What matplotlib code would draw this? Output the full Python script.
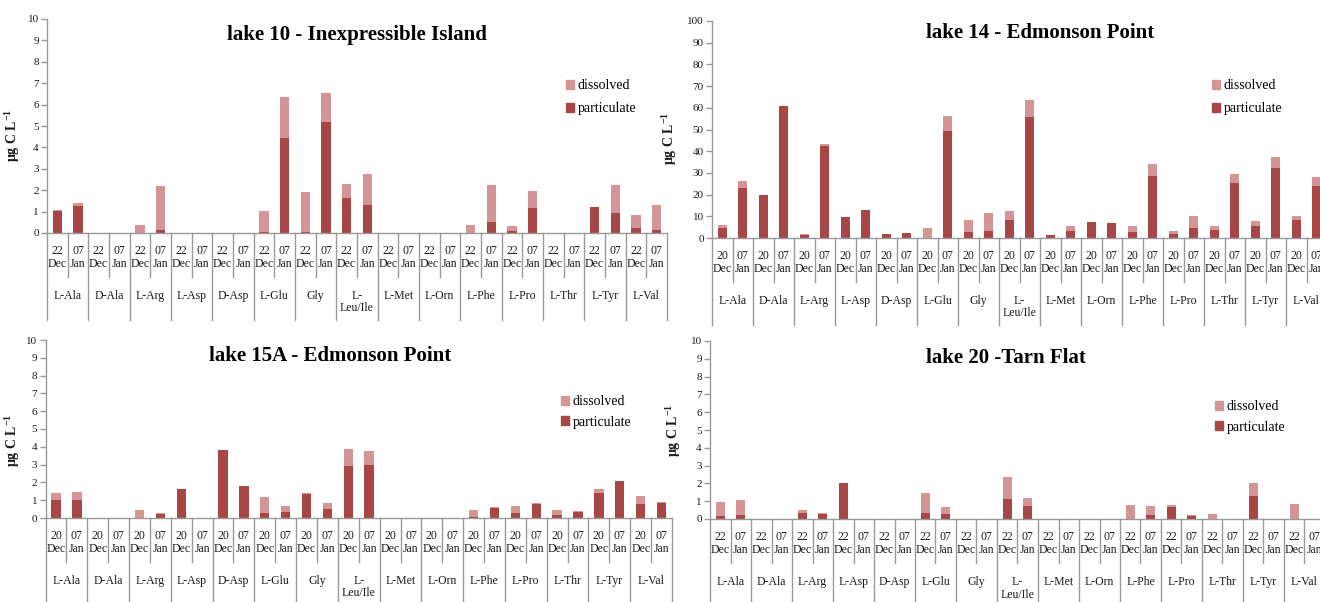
import matplotlib
matplotlib.use('Agg')
import matplotlib.pyplot as plt
from matplotlib.patches import Patch
import numpy as np

plt.rcParams['font.family'] = ['Liberation Serif', 'DejaVu Serif']
plt.rcParams['mathtext.fontset'] = 'custom'
plt.rcParams['mathtext.rm'] = 'Liberation Serif'
plt.rcParams['mathtext.bf'] = 'Liberation Serif:bold'

# ---------------- data ----------------
amino_acids = ["L-Ala", "D-Ala", "L-Arg", "L-Asp", "D-Asp", "L-Glu", "Gly",
               "L-\nLeu/Ile", "L-Met", "L-Orn", "L-Phe", "L-Pro", "L-Thr",
               "L-Tyr", "L-Val"]
dates_22 = ["22\nDec", "07\nJan"]
dates_20 = ["20\nDec", "07\nJan"]

# values per amino acid: (first date, 07 Jan)
lake10_particulate = [1.05, 1.25, 0, 0, 0.02, 0.13, 0, 0, 0, 0, 0.05, 4.45,
                      0.05, 5.18, 1.65, 1.33, 0, 0, 0, 0, 0.02, 0.52,
                      0.08, 1.15, 0, 0, 1.23, 0.95, 0.25, 0.12]
lake10_dissolved = [0.02, 0.17, 0, 0, 0.35, 2.05, 0, 0, 0, 0, 1.00, 1.90,
                    1.87, 1.37, 0.63, 1.42, 0, 0, 0, 0, 0.35, 1.72,
                    0.27, 0.80, 0, 0, 0.0, 1.27, 0.57, 1.18]

lake14_particulate = [4.6, 23.0, 19.7, 61.0, 1.2, 42.2, 9.7, 12.7, 1.8, 2.3,
                      0.2, 49.5, 2.6, 3.2, 8.1, 55.6, 1.5, 3.2, 7.5, 6.9,
                      2.8, 28.4, 1.7, 4.5, 3.7, 25.3, 5.4, 32.3, 8.1, 24.0]
lake14_dissolved = [1.5, 3.4, 0, 0, 0.8, 1.0, 0, 0, 0.2, 0.2,
                    4.3, 6.9, 5.8, 8.3, 4.3, 7.8, 0, 2.3, 0, 0,
                    2.6, 5.5, 1.5, 5.5, 1.7, 4.0, 2.6, 4.9, 1.9, 4.1]

lake15A_particulate = [0.99, 0.99, 0, 0, 0.02, 0.25, 1.61, 0, 3.81, 1.78,
                       0.26, 0.32, 1.37, 0.53, 2.90, 2.95, 0, 0, 0, 0,
                       0.03, 0.55, 0.28, 0.77, 0.19, 0.33, 1.38, 2.09, 0.80, 0.82]
lake15A_dissolved = [0.41, 0.49, 0, 0, 0.43, 0.03, 0, 0, 0.02, 0.02,
                     0.94, 0.33, 0.03, 0.33, 0.97, 0.81, 0, 0, 0, 0,
                     0.44, 0.09, 0.39, 0.07, 0.26, 0.08, 0.25, 0.0, 0.45, 0.08]

lake20_particulate = [0.19, 0.24, 0, 0, 0.32, 0.30, 2.03, 0, 0, 0,
                      0.34, 0.30, 0, 0, 1.14, 0.71, 0, 0, 0, 0,
                      0.02, 0.24, 0.67, 0.15, 0.02, 0, 1.27, 0, 0, 0]
lake20_dissolved = [0.76, 0.84, 0, 0, 0.20, 0.02, 0, 0, 0, 0,
                    1.10, 0.37, 0, 0, 1.21, 0.47, 0, 0, 0, 0,
                    0.78, 0.51, 0.09, 0.09, 0.28, 0, 0.74, 0, 0.87, 0]

titles = ["lake 10 - Inexpressible Island", "lake 14 - Edmonson Point",
          "lake 15A - Edmonson Point", "lake 20 -Tarn Flat"]

# ---------------- layout / style ----------------
W, H = 1320, 602
fig = plt.figure(figsize=(W / 100, H / 100), dpi=100)

DARK = '#a84646'
LIGHT = '#d49596'
LINE = '#9a9a9a'
TXT = '#1a1a1a'
CAT_FS = 8.5

panels = [
    dict(title=titles[0], part=lake10_particulate, diss=lake10_dissolved,
         dates=dates_22, ymax=10, step=1, box=(47, 667, 233, 19),
         title_xy=(357, 35), leg_xy=(566, 79), ylab_xy=(22, 135), sep_len=87,
         lspace=0.75),
    dict(title=titles[1], part=lake14_particulate, diss=lake14_dissolved,
         dates=dates_20, ymax=100, step=10, box=(712, 1327, 238, 21),
         title_xy=(1040, 33), leg_xy=(1212, 79), ylab_xy=(679, 138), sep_len=87,
         lspace=0.75),
    dict(title=titles[2], part=lake15A_particulate, diss=lake15A_dissolved,
         dates=dates_20, ymax=10, step=1, box=(45.5, 672, 518, 340),
         title_xy=(330, 356), leg_xy=(561, 395), ylab_xy=(22, 440), sep_len=95,
         lspace=0.55),
    dict(title=titles[3], part=lake20_particulate, diss=lake20_dissolved,
         dates=dates_22, ymax=10, step=1, box=(710, 1325, 519, 341),
         title_xy=(1006, 358), leg_xy=(1215, 400), ylab_xy=(683, 430), sep_len=95,
         lspace=0.55),
]

for p in panels:
    x0, x1, yb, yt = p['box']
    ax = fig.add_axes([x0 / W, 1 - yb / H, (x1 - x0) / W, (yb - yt) / H])
    part = np.array(p['part'])
    diss = np.array(p['diss'])
    n = len(part)
    x = np.arange(n)
    ax.bar(x, part, width=0.45, color=DARK, zorder=2)
    ax.bar(x, diss, width=0.45, bottom=part, color=LIGHT, zorder=2)
    ax.set_xlim(-0.5, n - 0.5)
    ax.set_ylim(0, p['ymax'])
    ax.set_yticks(np.arange(0, p['ymax'] + p['step'] / 2, p['step']))
    ax.set_xticks([])
    for s in ['top', 'right']:
        ax.spines[s].set_visible(False)
    for s in ['left', 'bottom']:
        ax.spines[s].set_color(LINE)
        ax.spines[s].set_linewidth(1.0)
    ax.tick_params(axis='y', direction='out', length=4, width=1.0, color=LINE,
                   labelsize=8, labelcolor=TXT, pad=2)
    ax.patch.set_alpha(0)

    h_px = yb - yt
    fy = lambda px: -px / h_px
    trans = ax.get_xaxis_transform()
    for i in range(n):
        d1, d2 = p['dates'][i % 2].split('\n')
        ax.text(i, fy(18), d1, transform=trans, ha='center', va='center',
                fontsize=CAT_FS, color=TXT, clip_on=False)
        ax.text(i, fy(31), d2, transform=trans, ha='center', va='center',
                fontsize=CAT_FS, color=TXT, clip_on=False)
    for g, name in enumerate(amino_acids):
        for k, line in enumerate(name.split('\n')):
            ax.text(2 * g + 0.5, fy(63 + 12.5 * k), line, transform=trans,
                    ha='center', va='center', fontsize=CAT_FS, color=TXT,
                    clip_on=False)
        ax.plot([2 * g + 0.5] * 2, [0, fy(44)], transform=trans,
                clip_on=False, color=LINE, lw=1.0)
    for g in range(len(amino_acids) + 1):
        ax.plot([2 * g - 0.5] * 2, [0, fy(p['sep_len'])], transform=trans,
                clip_on=False, color=LINE, lw=1.0)

    lx, ly = p['ylab_xy']
    ax.set_ylabel('μg C L$^{\\mathbf{-1}}$', fontsize=10, fontweight='bold', color=TXT)
    ax.yaxis.set_label_coords((lx - x0) / (x1 - x0), (yb - ly) / h_px)

    gx, gy = p['leg_xy']
    handles = [Patch(color=LIGHT, label='dissolved'),
               Patch(color=DARK, label='particulate')]
    ax.legend(handles=handles, loc='upper left', bbox_to_anchor=(gx / W, 1 - gy / H),
              bbox_transform=fig.transFigure, frameon=False, fontsize=10,
              handlelength=0.6, handleheight=0.6, handletextpad=0.25,
              labelspacing=p['lspace'], borderpad=0, borderaxespad=0)

    tx, ty = p['title_xy']
    fig.text(tx / W, 1 - ty / H, p['title'], ha='center', va='center',
             fontsize=15, fontweight='bold', color='black')

fig.savefig('out.png', dpi=100)
